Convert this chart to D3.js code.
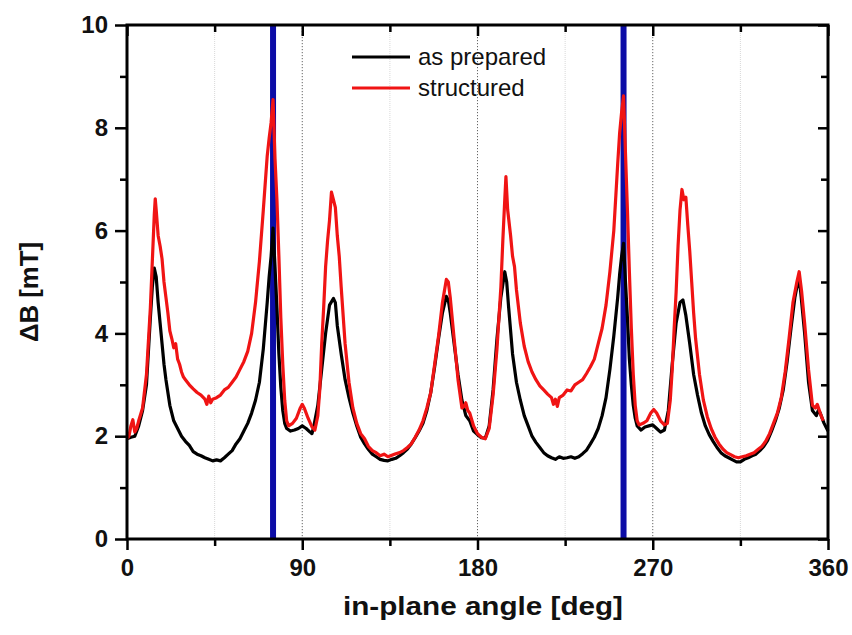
<!DOCTYPE html>
<html>
<head>
<meta charset="utf-8">
<script src="https://cdn.jsdelivr.net/npm/d3@7"></script>
<style>
  html, body { margin: 0; padding: 0; background: #fff; }
  svg { display: block; }
  text { font-family: "Liberation Sans", Arial, sans-serif; }
</style>
</head>
<body>
<svg id="chart" width="852" height="635"></svg>
<script>
// In-plane angle (deg) and linewidth ΔB (mT) for the two samples
const anglePrepared = [0,2,4,6,8,10,12,13,14,15,16,17,18,19,20,22,24,26,28,30,32,34,36,38,40,42,44,46,48,50,52,54,56,58,60,62,64,66,68,70,72,73,74,75,76,77,78,79,80,81,82,84,86,88,90,92,94,95,96,98,100,102,104,106,107,108,110,112,114,116,118,120,122,124,126,128,130,132,134,136,138,140,142,144,146,148,150,152,154,156,158,160,162,164,165,166,168,170,172,174,176,178,180,182,184,186,188,190,192,194,195,196,198,200,202,204,206,208,210,212,214,216,218,220,222,224,226,228,230,232,234,236,238,240,242,244,246,248,250,252,253,254,255,256,257,258,259,260,261,262,264,266,268,270,272,274,276,278,280,282,284,285.5,287,289,291,293,295,297,299,301,303,305,307,309,311,313,315,317,319,321,323,325,327,329,331,333,335,337,339,341,343,345,346,348,350,352,354,355,356,358,360];
const valuesPrepared = [1.95,1.98,2.0,2.2,2.5,3.0,4.3,4.9,5.27,5.1,4.6,4.2,3.8,3.4,3.1,2.6,2.3,2.15,2.0,1.9,1.82,1.7,1.65,1.62,1.58,1.55,1.52,1.54,1.52,1.58,1.65,1.72,1.85,1.95,2.1,2.25,2.45,2.7,3.05,3.7,4.6,5.1,5.5,6.05,5.3,4.5,3.6,2.95,2.5,2.25,2.15,2.1,2.12,2.15,2.2,2.15,2.08,2.05,2.2,2.6,3.3,4.0,4.55,4.68,4.6,4.15,3.6,3.1,2.75,2.45,2.2,1.98,1.85,1.74,1.65,1.6,1.55,1.53,1.52,1.55,1.57,1.62,1.68,1.75,1.85,1.97,2.1,2.25,2.5,2.85,3.35,3.9,4.4,4.72,4.65,4.4,3.8,3.2,2.7,2.4,2.3,2.1,2.03,1.97,1.96,2.2,2.9,3.9,4.7,5.2,5.0,4.5,3.6,3.05,2.7,2.4,2.2,2.0,1.88,1.78,1.68,1.62,1.58,1.55,1.6,1.57,1.58,1.6,1.57,1.6,1.66,1.73,1.85,1.98,2.15,2.4,2.75,3.3,3.95,4.7,5.15,5.5,5.75,5.0,4.3,3.5,3.0,2.6,2.35,2.2,2.12,2.18,2.2,2.22,2.15,2.08,2.12,2.5,3.4,4.2,4.6,4.65,4.35,3.8,3.2,2.8,2.45,2.2,2.03,1.9,1.78,1.68,1.62,1.58,1.54,1.5,1.5,1.55,1.58,1.62,1.65,1.72,1.8,1.92,2.1,2.3,2.55,2.9,3.45,4.1,4.7,5.1,4.8,4.0,3.05,2.5,2.4,2.5,2.45,2.25,2.1];

const angleStructured = [0,1,2,3,4,5,6,8,10,12,13,14,14.5,15,16,17,18,19,20,21,22,23,24,25,26,27,28,29,30,32,34,36,38,40,41,42,43,44,46,48,50,52,54,56,58,60,62,64,66,68,70,72,73,74,75,76,77,78,79,80,81,82,83,85,87,89,90,91,93,95,96.5,98,99,100,101,102,103,104,105,106,107,108,109,110,112,114,116,118,120,122,124,126,128,130,132,134,136,138,140,142,144,146,148,150,152,154,156,158,160,162,164,165,166,168,170,172,173,174,175,176,178,180,182,184,186,188,190,192,193,194,194.6,195.5,197,198,199,200,202,204,206,208,210,212,214,216,218,219,220,221,222,224,226,228,230,232,234,236,238,240,242,244,246,248,250,252,253,254,255,256,257,258,259,260,261,262,263,265,267,269,270.5,272,274,276,277.5,279,280,281,282,283,284,285,286,287,288,289,290,291,292,294,296,298,300,302,304,306,308,310,312,314,316,318,320,322,324,326,328,330,332,334,336,338,340,342,344,345.2,346.5,348,350,352,353.5,354.5,356,357.5];
const valuesStructured = [1.95,2.0,2.2,2.32,2.08,2.15,2.3,2.55,3.2,4.5,5.4,6.3,6.62,6.4,5.9,5.7,5.45,5.0,4.7,4.4,4.05,3.9,3.72,3.8,3.5,3.4,3.25,3.15,3.1,3.0,2.92,2.85,2.8,2.72,2.62,2.78,2.65,2.72,2.75,2.8,2.9,2.95,3.05,3.15,3.3,3.45,3.65,4.0,4.6,5.4,6.4,7.45,7.8,8.1,8.55,7.4,6.6,5.5,4.3,3.4,2.7,2.3,2.2,2.25,2.35,2.55,2.62,2.55,2.35,2.18,2.12,2.4,2.9,3.8,4.5,5.3,5.8,6.2,6.75,6.6,6.45,5.9,5.5,4.9,3.8,3.05,2.55,2.25,2.05,1.95,1.8,1.72,1.68,1.62,1.65,1.6,1.63,1.66,1.68,1.72,1.78,1.85,1.98,2.12,2.3,2.55,2.85,3.4,3.95,4.6,5.05,5.0,4.7,3.9,3.1,2.55,2.58,2.65,2.5,2.45,2.2,2.05,1.98,1.95,2.15,2.8,3.7,4.9,5.8,6.6,7.05,6.4,5.9,5.5,5.3,4.85,4.2,3.75,3.45,3.25,3.1,2.98,2.9,2.82,2.75,2.62,2.72,2.58,2.75,2.8,2.9,2.88,3.0,3.05,3.1,3.22,3.35,3.5,3.8,4.1,4.55,5.2,6.0,7.3,7.9,8.3,8.62,7.5,6.4,5.2,4.1,3.2,2.6,2.3,2.22,2.25,2.3,2.45,2.52,2.45,2.3,2.22,2.25,2.7,3.3,4.1,4.8,5.7,6.4,6.8,6.6,6.65,6.1,5.6,5.0,4.4,3.9,3.2,2.7,2.38,2.15,1.98,1.85,1.75,1.68,1.64,1.6,1.58,1.6,1.62,1.65,1.68,1.74,1.8,1.9,2.05,2.25,2.45,2.75,3.25,3.9,4.6,5.0,5.2,4.8,4.2,3.3,2.6,2.55,2.62,2.45,2.3];

// Marker angles (vertical blue lines)
const markerAngles = [75, 255];

// Axis ticks
const xMajorTicks = [0, 90, 180, 270, 360];
const xMinorTicks = [45, 135, 225, 315];
const yMajorTicks = [0, 2, 4, 6, 8, 10];
const yMinorTicks = [1, 3, 5, 7, 9];

const seriesNames = ["as prepared", "structured"];
const seriesColors = ["#000000", "#f01414"];

const svg = d3.select("#chart");
const plotLeft = 127, plotRight = 828, plotTop = 25, plotBottom = 539;

const x = d3.scaleLinear().domain([0, 360]).range([plotLeft, plotRight]);
const y = d3.scaleLinear().domain([0, 10]).range([plotBottom, plotTop]);

// Vertical guide lines
svg.append("g").selectAll("line").data(xMinorTicks).join("line")
  .attr("x1", d => x(d)).attr("x2", d => x(d))
  .attr("y1", plotTop).attr("y2", plotBottom)
  .attr("stroke", "#d8d8d8").attr("stroke-width", 1)
  .attr("stroke-dasharray", "1,1");
svg.append("g").selectAll("line").data([90, 180, 270]).join("line")
  .attr("x1", d => x(d)).attr("x2", d => x(d))
  .attr("y1", plotTop).attr("y2", plotBottom)
  .attr("stroke", "#666").attr("stroke-width", 1)
  .attr("stroke-dasharray", "1.2,1.8");

// Blue marker lines
svg.append("g").selectAll("line").data(markerAngles).join("line")
  .attr("x1", d => x(d)).attr("x2", d => x(d))
  .attr("y1", plotTop).attr("y2", plotBottom)
  .attr("stroke", "#0c0ca6").attr("stroke-width", 6);

// Data lines
const line = d3.line().x(d => x(d[0])).y(d => y(d[1]));
const prepared = anglePrepared.map((a, i) => [a, valuesPrepared[i]]);
const structured = angleStructured.map((a, i) => [a, valuesStructured[i]]);

svg.append("path").datum(prepared)
  .attr("d", line).attr("fill", "none")
  .attr("stroke", seriesColors[0]).attr("stroke-width", 3.2)
  .attr("stroke-linejoin", "round");
svg.append("path").datum(structured)
  .attr("d", line).attr("fill", "none")
  .attr("stroke", seriesColors[1]).attr("stroke-width", 3.2)
  .attr("stroke-linejoin", "round");

// Axes
function styleAxis(g) {
  g.select(".domain").remove();
  g.selectAll(".tick line").attr("stroke", "#000").attr("stroke-width", 2.5);
  g.selectAll("text")
    .attr("font-family", "'Liberation Sans', Arial, sans-serif")
    .attr("font-weight", "bold").attr("font-size", 24).attr("fill", "#111");
}

svg.append("g").attr("transform", `translate(0,${plotBottom})`)
  .call(d3.axisBottom(x).tickValues(xMinorTicks).tickSize(7).tickFormat(""))
  .call(styleAxis);
svg.append("g").attr("transform", `translate(0,${plotBottom})`)
  .call(d3.axisBottom(x).tickValues(xMajorTicks).tickSize(11).tickPadding(9).tickFormat(d3.format("d")))
  .call(styleAxis);

svg.append("g").attr("transform", `translate(0,${plotTop})`)
  .call(d3.axisBottom(x).tickValues(xMinorTicks).tickSize(7).tickFormat(""))
  .call(styleAxis);
svg.append("g").attr("transform", `translate(0,${plotTop})`)
  .call(d3.axisBottom(x).tickValues(xMajorTicks).tickSize(11).tickFormat(""))
  .call(styleAxis);

svg.append("g").attr("transform", `translate(${plotLeft},0)`)
  .call(d3.axisLeft(y).tickValues(yMinorTicks).tickSize(7).tickFormat(""))
  .call(styleAxis);
svg.append("g").attr("transform", `translate(${plotLeft},0)`)
  .call(d3.axisLeft(y).tickValues(yMajorTicks).tickSize(12).tickPadding(7).tickFormat(d3.format("d")))
  .call(styleAxis);

svg.append("g").attr("transform", `translate(${plotRight},0)`)
  .call(d3.axisLeft(y).tickValues(yMinorTicks).tickSize(7).tickFormat(""))
  .call(styleAxis);
svg.append("g").attr("transform", `translate(${plotRight},0)`)
  .call(d3.axisLeft(y).tickValues(yMajorTicks).tickSize(10).tickFormat(""))
  .call(styleAxis);

// Frame
svg.append("rect")
  .attr("x", plotLeft).attr("y", plotTop)
  .attr("width", plotRight - plotLeft).attr("height", plotBottom - plotTop)
  .attr("fill", "none").attr("stroke", "#000").attr("stroke-width", 3);

// Axis titles
svg.append("text")
  .attr("x", 483).attr("y", 615)
  .attr("text-anchor", "middle")
  .attr("font-weight", "bold").attr("font-size", 26).attr("fill", "#111")
  .attr("textLength", 280).attr("lengthAdjust", "spacingAndGlyphs")
  .text("in-plane angle [deg]");
svg.append("text")
  .attr("transform", "translate(38,292) rotate(-90)")
  .attr("text-anchor", "middle")
  .attr("font-weight", "bold").attr("font-size", 26).attr("fill", "#111")
  .attr("textLength", 100).attr("lengthAdjust", "spacingAndGlyphs")
  .text("ΔB [mT]");

// Legend
const legend = svg.append("g");
seriesNames.forEach((name, i) => {
  const ly = 57 + i * 31;
  legend.append("line")
    .attr("x1", 352).attr("x2", 410).attr("y1", ly).attr("y2", ly)
    .attr("stroke", seriesColors[i]).attr("stroke-width", 3);
  legend.append("text")
    .attr("x", 418).attr("y", ly + 8)
    .attr("font-size", 24).attr("fill", "#111")
    .text(name);
});
</script>
</body>
</html>
